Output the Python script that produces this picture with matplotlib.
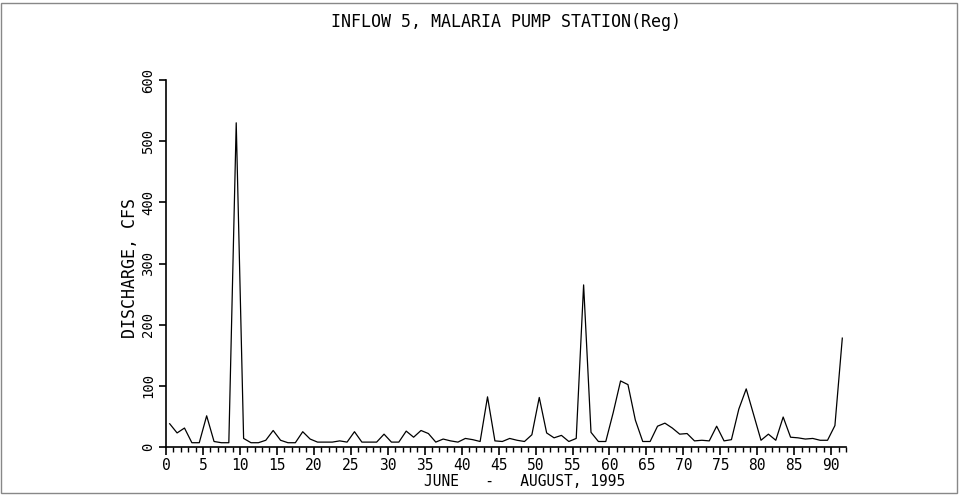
import matplotlib
matplotlib.use("Agg")
import matplotlib.pyplot as plt
from matplotlib.patches import Rectangle
import numpy as np

plt.rcParams['font.family'] = ['DejaVu Sans Mono', 'DejaVu Sans']

title = "INFLOW 5, MALARIA PUMP STATION(Reg)"
xlabel = "JUNE   -   AUGUST, 1995"
ylabel = "DISCHARGE, CFS"

days = list(range(1, 93))
discharge = [38, 23, 31, 7, 7, 51, 9, 7, 7, 530,
             14, 7, 7, 11, 27, 11, 7, 7, 25, 13,
             8, 8, 8, 10, 8, 25, 8, 8, 8, 21,
             8, 8, 26, 16, 27, 22, 8, 13, 10, 8,
             14, 12, 9, 82, 10, 9, 14, 11, 9, 20,
             81, 23, 15, 19, 9, 14, 265, 24, 9, 9,
             56, 108, 102, 44, 9, 9, 34, 39, 31, 21,
             22, 10, 11, 10, 34, 10, 12, 62, 95, 53,
             11, 21, 11, 49, 16, 15, 13, 14, 11, 11,
             35, 178]
xticks = list(range(0, 95, 5))
yticks = list(range(0, 601, 100))

W, H = 959, 495
fig = plt.figure(figsize=(W / 100, H / 100), dpi=100)
ax = fig.add_axes([166 / W, 1 - 447 / H, (846 - 166) / W, (447 - 80) / H])

x = np.array(days) - 0.5
ax.plot(x, discharge, color='black', lw=0.9)

ax.set_xlim(0, 92)
ax.set_ylim(0, 600)
ax.set_xticks(xticks)
ax.set_xticklabels([str(t) for t in xticks], fontsize=10.5)
ax.set_xticks(range(0, 93), minor=True)
ax.set_yticks(yticks)
ax.set_yticklabels([str(t) for t in yticks], fontsize=10, rotation=90, va='center')

for s in ['top', 'right']:
    ax.spines[s].set_visible(False)
for s in ['left', 'bottom']:
    ax.spines[s].set_linewidth(1.2)
    ax.spines[s].set_color('black')

ax.tick_params(axis='x', which='major', direction='out', length=6, width=1.2, pad=2)
ax.tick_params(axis='x', which='minor', direction='out', length=3.5, width=1.0)
ax.tick_params(axis='y', which='major', direction='out', length=5, width=1.2, pad=3)

fig.text(506 / W, 1 - 22 / H, title, ha='center', va='center', fontsize=12)
fig.text(525 / W, 1 - 481 / H, xlabel, ha='center', va='center', fontsize=10.5)
fig.text(130 / W, 1 - 268 / H, ylabel, ha='center', va='center', fontsize=12, rotation=90)

fig.add_artist(Rectangle((1 / W, 2 / H), (W - 3) / W, (H - 5) / H, transform=fig.transFigure,
                         fill=False, edgecolor='#888888', lw=1.0))

fig.savefig("out.png", dpi=100)
